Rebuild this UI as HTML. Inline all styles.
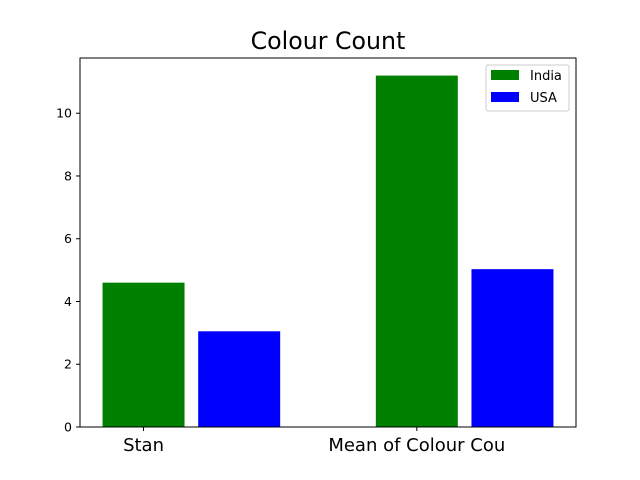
<!DOCTYPE html>
<html><head><meta charset="utf-8"><style>body{margin:0;background:#fff}svg{display:block;font-family:"DejaVu Sans","Liberation Sans",sans-serif}</style></head>
<body>
<svg id="chart" width="640" height="480" viewBox="0 0 640 480"></svg>
<script>
const categories = ["Stan", "Mean of Colour Cou"];
const indiaValues = [4.6, 11.2];
const usaValues = [3.05, 5.03];
const yTicks = [0, 2, 4, 6, 8, 10];
const seriesNames = ["India", "USA"];

const NS = "http://www.w3.org/2000/svg";
const svg = document.getElementById("chart");
const L = 80, R = 576, T = 58, B = 427;
const xMin = -0.2325, xMax = 1.5825;
const yMax = Math.max(...indiaValues, ...usaValues) * 1.05;
const xs = v => L + (v - xMin) / (xMax - xMin) * (R - L);
const ys = v => B - v / yMax * (B - T);
function mk(tag, attrs, text) {
  const e = document.createElementNS(NS, tag);
  for (const k in attrs) e.setAttribute(k, attrs[k]);
  if (text !== undefined) e.textContent = text;
  svg.appendChild(e);
  return e;
}
const w = 0.3, off = 0.35;
categories.forEach((c, i) => {
  const b1 = mk("rect", {x: xs(i - w/2), y: ys(indiaValues[i]), width: xs(w) - xs(0), height: B - ys(indiaValues[i]), fill: "#008000"});
  
  
  const b2 = mk("rect", {x: xs(i + off - w/2), y: ys(usaValues[i]), width: xs(w) - xs(0), height: B - ys(usaValues[i]), fill: "#0000ff"});
  
  
  const t = mk("line", {x1: xs(i), x2: xs(i), y1: B, y2: B + 4, stroke: "#000"});
  
  
  const lb = mk("text", {x: xs(i), y: B + 24, "text-anchor": "middle", "font-size": 18}, c);
  
  
});
yTicks.forEach(v => {
  const t = mk("line", {x1: L - 4, x2: L, y1: ys(v), y2: ys(v), stroke: "#000"});
  
  
  const lb = mk("text", {x: L - 8, y: ys(v) + 4.5, "text-anchor": "end", "font-size": 12.5}, v);
  
  
});
const frame = mk("rect", {x: L, y: T, width: R - L, height: B - T, fill: "none", stroke: "#000", "stroke-width": 1});


const title = mk("text", {x: (L + R) / 2, y: 49, "text-anchor": "middle", "font-size": 23.7}, "Colour Count");


const lg = mk("rect", {x: 486, y: 65, width: 83, height: 46, fill: "#fff", stroke: "#ccc", rx: 2});


["#008000", "#0000ff"].forEach((col, i) => {
  const sw = mk("rect", {x: 491, y: 70 + i * 22, width: 28, height: 10, fill: col});
  
  
  const tx = mk("text", {x: 530, y: 80 + i * 22, "font-size": 13}, seriesNames[i]);
  
  
});
</script>
</body></html>
